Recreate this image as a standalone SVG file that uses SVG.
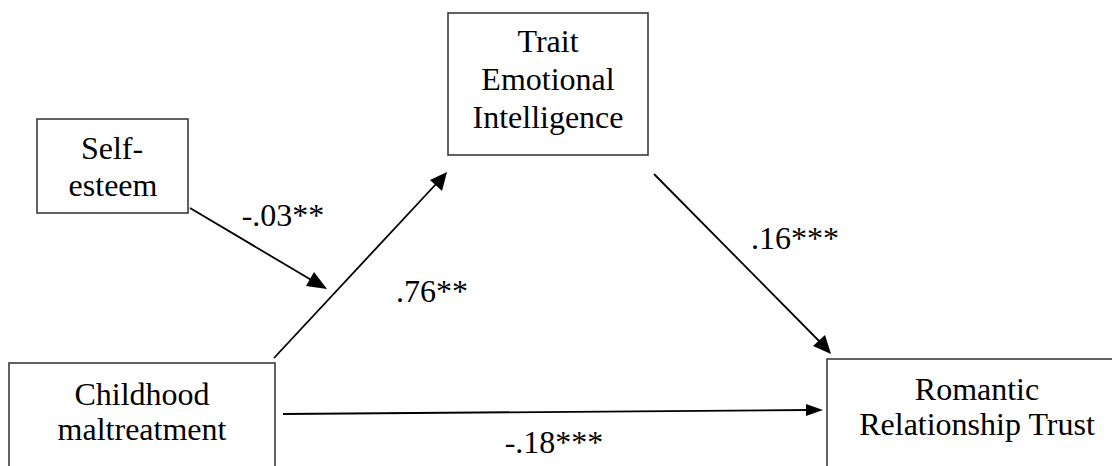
<svg xmlns="http://www.w3.org/2000/svg" width="1112" height="466" viewBox="0 0 1112 466">
<style>
.box{fill:#fff;stroke:#3a3a3a;stroke-width:1.6}
.t{font-family:'Liberation Serif','Tinos','Times New Roman','DejaVu Serif',serif;font-size:32px;fill:#000;text-anchor:middle}
</style>
<rect width="1112" height="466" fill="#fff"/>
<g id="connectors" stroke="#000" stroke-width="1.8">
<line x1="190" y1="208" x2="313" y2="281"/>
<path d="M327,289 L306,286 L314,272 z" fill="#000" stroke="none"/>
<line x1="274" y1="358" x2="437" y2="183"/>
<path d="M447,172 L442,191 L430,180 z" fill="#000" stroke="none"/>
<line x1="654" y1="174" x2="822" y2="344"/>
<path d="M831,354 L813,346 L825,335 z" fill="#000" stroke="none"/>
<line x1="283" y1="414" x2="808" y2="410"/>
<path d="M823,410 L806,416 L806,404 z" fill="#000" stroke="none"/>
</g>
<g id="labels">
<text class="t" x="283" y="226">-.03**</text>
<text class="t" x="432" y="302">.76**</text>
<text class="t" x="795" y="249">.16***</text>
<text class="t" x="554" y="453">-.18***</text>
</g>
<g id="self-esteem">
<rect class="box" x="37" y="119" width="151" height="94"/>
<text class="t" x="112" y="159">Self-</text>
<text class="t" x="113" y="196">esteem</text>
</g>
<g id="trait-ei">
<rect class="box" x="448" y="13" width="200" height="142"/>
<text class="t" x="548" y="52">Trait</text>
<text class="t" x="548" y="90">Emotional</text>
<text class="t" x="548" y="128">Intelligence</text>
</g>
<g id="childhood">
<rect class="box" x="9" y="363" width="266" height="120"/>
<text class="t" x="142" y="405">Childhood</text>
<text class="t" x="142" y="440">maltreatment</text>
</g>
<g id="romantic">
<rect class="box" x="827" y="359" width="300" height="120"/>
<text class="t" x="977" y="400">Romantic</text>
<text class="t" x="977" y="435">Relationship Trust</text>
</g>
</svg>
